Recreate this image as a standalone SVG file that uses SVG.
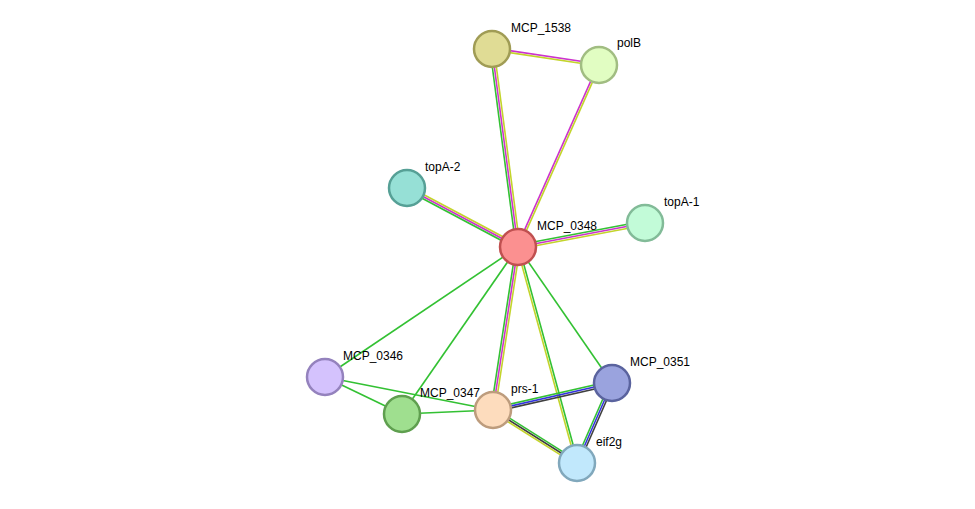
<svg xmlns="http://www.w3.org/2000/svg" width="975" height="509" viewBox="0 0 975 509">
<style>
line{stroke-width:1.6;fill:none}
.g{stroke:#33c133}.m{stroke:#cc33cc}.y{stroke:#c3d42b}.b{stroke:#3333dd}.k{stroke:#404040}
circle{stroke-width:2.5}
text{font-family:"Liberation Sans",Arial,sans-serif;font-size:12px;fill:#000}
</style>
<rect width="975" height="509" fill="#fff"/>
<g id="connectors">
<line class="m" x1="492" y1="49" x2="599" y2="65" transform="translate(0.15,-1)"/>
<line class="y" x1="492" y1="49" x2="599" y2="65" transform="translate(-0.15,1)"/>
<line class="g" x1="492" y1="49" x2="518" y2="247" transform="translate(-2,0.26)"/>
<line class="m" x1="492" y1="49" x2="518" y2="247"/>
<line class="y" x1="492" y1="49" x2="518" y2="247" transform="translate(2,-0.26)"/>
<line class="m" x1="599" y1="65" x2="518" y2="247" transform="translate(-0.9,-0.4)"/>
<line class="y" x1="599" y1="65" x2="518" y2="247" transform="translate(0.9,0.4)"/>
<line class="y" x1="407" y1="188" x2="518" y2="247" transform="translate(0.94,-1.76)"/>
<line class="m" x1="407" y1="188" x2="518" y2="247"/>
<line class="g" x1="407" y1="188" x2="518" y2="247" transform="translate(-0.94,1.76)"/>
<line class="g" x1="645" y1="223" x2="518" y2="247" transform="translate(-0.37,-1.96)"/>
<line class="m" x1="645" y1="223" x2="518" y2="247"/>
<line class="y" x1="645" y1="223" x2="518" y2="247" transform="translate(0.37,1.96)"/>
<line class="g" x1="518" y1="247" x2="325" y2="377"/>
<line class="g" x1="518" y1="247" x2="402" y2="414"/>
<line class="g" x1="518" y1="247" x2="493" y2="410" transform="translate(-2,-0.3)"/>
<line class="m" x1="518" y1="247" x2="493" y2="410"/>
<line class="y" x1="518" y1="247" x2="493" y2="410" transform="translate(2,0.3)"/>
<line class="g" x1="518" y1="247" x2="612" y2="383"/>
<line class="g" x1="518" y1="247" x2="577" y2="463" transform="translate(1,-0.26)"/>
<line class="y" x1="518" y1="247" x2="577" y2="463" transform="translate(-1,0.26)"/>
<line class="g" x1="325" y1="377" x2="402" y2="414"/>
<line class="g" x1="325" y1="377" x2="493" y2="410"/>
<line class="g" x1="402" y1="414" x2="493" y2="410"/>
<line class="g" x1="493" y1="410" x2="612" y2="383" transform="translate(-0.44,-1.94)"/>
<line class="b" x1="493" y1="410" x2="612" y2="383"/>
<line class="k" x1="493" y1="410" x2="612" y2="383" transform="translate(0.44,1.94)"/>
<line class="g" x1="493" y1="410" x2="577" y2="463" transform="translate(1.06,-1.68)"/>
<line class="k" x1="493" y1="410" x2="577" y2="463"/>
<line class="y" x1="493" y1="410" x2="577" y2="463" transform="translate(-1.06,1.68)"/>
<line class="g" x1="612" y1="383" x2="577" y2="463" transform="translate(-1.84,-0.8)"/>
<line class="b" x1="612" y1="383" x2="577" y2="463"/>
<line class="k" x1="612" y1="383" x2="577" y2="463" transform="translate(1.84,0.8)"/>
</g>
<g id="MCP_1538"><circle cx="492" cy="49" r="18" fill="#e0dc95" stroke="#a09c55"/><text x="511" y="32">MCP_1538</text></g>
<g id="polB"><circle cx="599" cy="65" r="18" fill="#e1fdc2" stroke="#a1bd82"/><text x="617" y="47">polB</text></g>
<g id="topA-2"><circle cx="407" cy="188" r="18" fill="#96e0d6" stroke="#56a096"/><text x="425" y="171">topA-2</text></g>
<g id="MCP_0348"><circle cx="518" cy="247" r="18" fill="#fb9090" stroke="#c05050"/><text x="537" y="230">MCP_0348</text></g>
<g id="topA-1"><circle cx="645" cy="223" r="18" fill="#c2fbd8" stroke="#82bb98"/><text x="664" y="206">topA-1</text></g>
<g id="MCP_0346"><circle cx="325" cy="377" r="18" fill="#d4c2fd" stroke="#9482bd"/><text x="343" y="360">MCP_0346</text></g>
<g id="MCP_0347"><circle cx="402" cy="414" r="18" fill="#9fdf8f" stroke="#5f9f4f"/><text x="420" y="397">MCP_0347</text></g>
<g id="prs-1"><circle cx="493" cy="410" r="18" fill="#fddcbd" stroke="#bd9c7d"/><text x="511" y="393">prs-1</text></g>
<g id="MCP_0351"><circle cx="612" cy="383" r="18" fill="#9aa3de" stroke="#5a639e"/><text x="630" y="366">MCP_0351</text></g>
<g id="eif2g"><circle cx="577" cy="463" r="18" fill="#c1e8fc" stroke="#81a8bc"/><text x="596" y="446">eif2g</text></g>
</svg>
